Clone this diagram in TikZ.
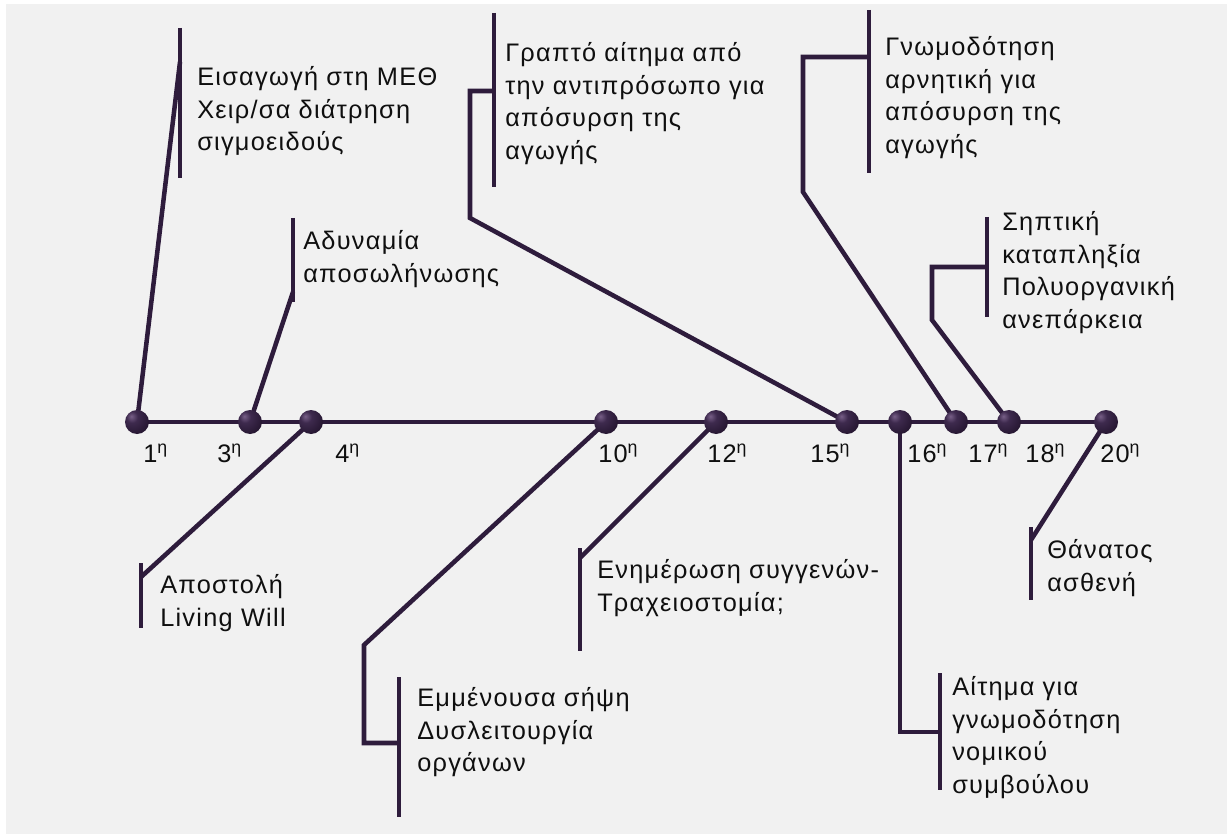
\documentclass[tikz,border=0pt]{standalone}
\usepackage{fontspec}
\setmainfont{Liberation Sans}[LetterSpace=5]

\definecolor{linecol}{RGB}{46,28,60}
\definecolor{bgcol}{RGB}{241,241,241}
\definecolor{txtcol}{RGB}{15,15,15}
\definecolor{dotlight}{RGB}{120,96,136}
\definecolor{dotmid}{RGB}{62,42,78}
\definecolor{dotdark}{RGB}{32,18,42}

\pgfdeclareradialshading{dotshade}{\pgfpoint{-12bp}{12bp}}{%
  color(0bp)=(dotlight); color(12bp)=(dotmid); color(40bp)=(dotdark);
  color(62bp)=(dotdark!70!black); color(100bp)=(dotdark!70!black)}

\tikzset{
  conn/.style={draw=linecol, line width=3.4pt, line join=miter},
  dot/.style={circle, inner sep=0pt, minimum size=18pt, shade, shading=dotshade},
  lbl/.style={anchor=north west, inner sep=0pt, align=left, text=txtcol,
    font=\fontsize{19}{24.5}\selectfont},
  day/.style={anchor=base west, inner sep=0pt, text=txtcol,
    font=\fontsize{19}{24.5}\selectfont}
}

\begin{document}
\begin{tikzpicture}[x=0.75pt,y=0.75pt,yscale=-1]
        \useasboundingbox (0,0) rectangle (1227,834);
        \fill[white] (0,0) rectangle (1227,834);
        \fill[bgcol] (6,4) rectangle (1227,834);

        % days on the axis
        \coordinate (p1) at (137,422);
        \coordinate (p3) at (250,422);
        \coordinate (p4) at (311,422);
        \coordinate (p10) at (606,422);
        \coordinate (p12) at (716,422);
        \coordinate (p15) at (847,422);
        \coordinate (p16) at (900,422);
        \coordinate (p17) at (956,422);
        \coordinate (p18) at (1009,422);
        \coordinate (p20) at (1106,422);

        %Straight Lines: axis
        \draw[conn] (p1) -- (p20);

        %Lines up: admission
        \coordinate (a1) at (180,62);
        \draw[conn] (p1) -- (a1);
        \draw[conn] (180,28) coordinate (a1t) -- (180,178) coordinate (a1b);
        %Lines up: weaning
        \coordinate (b1) at (293,292);
        \draw[conn] (p3) -- (b1);
        \draw[conn] (293,218) coordinate (b1t) -- (293,302) coordinate (b1b);
        %Lines up: written request
        \coordinate (c1) at (470,218);
        \coordinate (c2) at (470,91);
        \coordinate (c3) at (494,91);
        \draw[conn] (p15) -- (c1) -- (c2) -- (c3);
        \draw[conn] (494,13) coordinate (c3t) -- (494,187) coordinate (c3b);
        %Lines up: negative opinion
        \coordinate (e1) at (803,192);
        \coordinate (e2) at (803,57);
        \coordinate (e3) at (869,57);
        \draw[conn] (p17) -- (e1) -- (e2) -- (e3);
        \draw[conn] (869,10) coordinate (e3t) -- (869,173) coordinate (e3b);
        %Lines up: septic shock
        \coordinate (g1) at (932,320);
        \coordinate (g2) at (932,267);
        \coordinate (g3) at (987,267);
        \draw[conn] (p18) -- (g1) -- (g2) -- (g3);
        \draw[conn] (987,217) coordinate (g3t) -- (987,317) coordinate (g3b);

        %Lines down: living will
        \coordinate (f1) at (141,577);
        \draw[conn] (p4) -- (f1);
        \draw[conn] (141,563) coordinate (f1t) -- (141,628) coordinate (f1b);
        %Lines down: sepsis
        \coordinate (h1) at (364,645);
        \coordinate (h2) at (364,743);
        \coordinate (h3) at (399,743);
        \draw[conn] (p10) -- (h1) -- (h2) -- (h3);
        \draw[conn] (399,677) coordinate (h3t) -- (399,817) coordinate (h3b);
        %Lines down: relatives
        \coordinate (k1) at (580,558);
        \draw[conn] (p12) -- (k1);
        \draw[conn] (580,548) coordinate (k1t) -- (580,651) coordinate (k1b);
        %Lines down: legal advisor
        \coordinate (m1) at (900,732);
        \coordinate (m2) at (940,732);
        \draw[conn] (p16) -- (m1) -- (m2);
        \draw[conn] (940,673) coordinate (m2t) -- (940,790) coordinate (m2b);
        %Lines down: death
        \coordinate (n1) at (1031,540);
        \draw[conn] (p20) -- (n1);
        \draw[conn] (1031,527) coordinate (n1t) -- (1031,600) coordinate (n1b);

        % balls
        \node[dot] (d1) at (p1) {};
        \node[dot] (d3) at (p3) {};
        \node[dot] (d4) at (p4) {};
        \node[dot] (d10) at (p10) {};
        \node[dot] (d12) at (p12) {};
        \node[dot] (d15) at (p15) {};
        \node[dot] (d16) at (p16) {};
        \node[dot] (d17) at (p17) {};
        \node[dot] (d18) at (p18) {};
        \node[dot] (d20) at (p20) {};

        % Day labels
        \node[day] (l1) at (143,462) {1\textsuperscript{η}};
        \node[day] (l3) at (217,462) {3\textsuperscript{η}};
        \node[day] (l4) at (335,462) {4\textsuperscript{η}};
        \node[day] (l10) at (598,462) {10\textsuperscript{η}};
        \node[day] (l12) at (707,462) {12\textsuperscript{η}};
        \node[day] (l15) at (810,462) {15\textsuperscript{η}};
        \node[day] (l16) at (907,462) {16\textsuperscript{η}};
        \node[day] (l17) at (968,462) {17\textsuperscript{η}};
        \node[day] (l18) at (1025,462) {18\textsuperscript{η}};
        \node[day] (l20) at (1100,462) {20\textsuperscript{η}};

        % Text Node
        \node[lbl] (tA) at (197,66) {Εισαγωγή στη ΜΕΘ\\Χειρ/σα διάτρηση\\σιγμοειδούς};
        % Text Node
        \node[lbl] (tB) at (303,230) {Αδυναμία\\αποσωλήνωσης};
        % Text Node
        \node[lbl] (tC) at (505,42) {Γραπτό αίτημα από\\την αντιπρόσωπο για\\απόσυρση της\\αγωγής};
        % Text Node
        \node[lbl] (tE) at (885,36) {Γνωμοδότηση\\αρνητική για\\απόσυρση της\\αγωγής};
        % Text Node
        \node[lbl] (tG) at (1002,211) {Σηπτική\\καταπληξία\\Πολυοργανική\\ανεπάρκεια};
        % Text Node
        \node[lbl] (tF) at (160,574) {Αποστολή\\Living Will};
        % Text Node
        \node[lbl] (tH) at (417,687) {Εμμένουσα σήψη\\Δυσλειτουργία\\οργάνων};
        % Text Node
        \node[lbl] (tK) at (597,559) {Ενημέρωση συγγενών-\\Τραχειοστομία;};
        % Text Node
        \node[lbl] (tM) at (952,676) {Αίτημα για\\γνωμοδότηση\\νομικού\\συμβούλου};
        % Text Node
        \node[lbl] (tN) at (1047,539) {Θάνατος\\ασθενή};
\end{tikzpicture}
\end{document}
